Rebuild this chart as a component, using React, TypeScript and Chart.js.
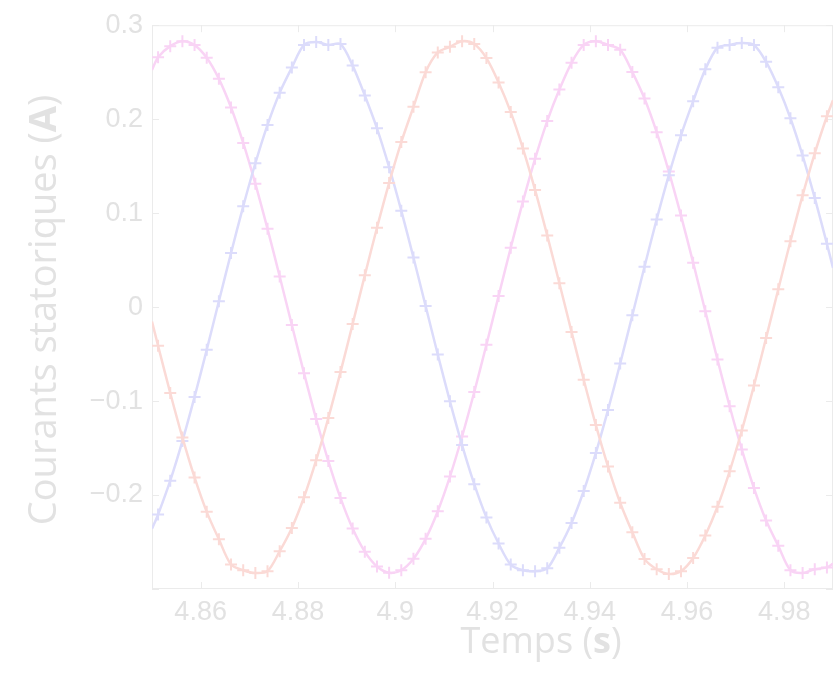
import React, { useEffect, useRef } from 'react';
import { Chart, registerables } from 'chart.js';

Chart.register(...registerables);

// Temps (s)
const timeS = [
  4.85, 4.85125, 4.85375, 4.85625, 4.85875, 4.86125, 4.86375, 4.86625, 4.86875, 4.87125, 4.87375,
  4.87625, 4.87875, 4.88125, 4.88375, 4.88625, 4.88875, 4.89125, 4.89375, 4.89625, 4.89875,
  4.90125, 4.90375, 4.90625, 4.90875, 4.91125, 4.91375, 4.91625, 4.91875, 4.92125, 4.92375,
  4.92625, 4.92875, 4.93125, 4.93375, 4.93625, 4.93875, 4.94125, 4.94375, 4.94625, 4.94875,
  4.95125, 4.95375, 4.95625, 4.95875, 4.96125, 4.96375, 4.96625, 4.96875, 4.97125, 4.97375,
  4.97625, 4.97875, 4.98125, 4.98375, 4.98625, 4.98875, 4.99,
];

// Phase a (pink)
const courantA = [
  0.2524, 0.266, 0.2777, 0.283, 0.2788, 0.2653, 0.2429, 0.2124, 0.1747, 0.1312, 0.0833,
  0.0326, -0.0191, -0.0703, -0.1191, -0.1638, -0.2031, -0.2357, -0.2603, -0.2761, -0.2828,
  -0.28, -0.2678, -0.2466, -0.2172, -0.1804, -0.1377, -0.0904, -0.04, 0.0118, 0.0631,
  0.1123, 0.1578, 0.198, 0.2315, 0.26, 0.279, 0.283, 0.279, 0.274, 0.2501,
  0.2219, 0.1861, 0.1442, 0.0974, 0.0473, -0.0044, -0.0558, -0.1055, -0.1515, -0.1926,
  -0.2271, -0.2541, -0.28, -0.283, -0.279, -0.277, -0.273,
];

// Phase b (blue)
const courantB = [
  -0.236, -0.2207, -0.1847, -0.1426, -0.0956, -0.0455, 0.0062, 0.0576, 0.1072, 0.1531, 0.1939,
  0.2282, 0.2549, 0.279, 0.282, 0.279, 0.28, 0.257, 0.2252, 0.1903, 0.1489,
  0.1026, 0.0528, 0.0012, -0.0504, -0.1003, -0.1468, -0.1884, -0.2238, -0.2516, -0.274,
  -0.28, -0.281, -0.278, -0.256, -0.2297, -0.1957, -0.1552, -0.1094, -0.06, -0.0086,
  0.043, 0.0933, 0.1404, 0.1828, 0.2192, 0.253, 0.276, 0.279, 0.281, 0.279,
  0.261, 0.2339, 0.201, 0.1613, 0.1162, 0.0673, 0.0418,
];

// Phase c (red)
const courantC = [
  -0.0153, -0.0411, -0.0914, -0.1387, -0.1813, -0.2179, -0.2471, -0.274, -0.28, -0.283, -0.281,
  -0.2598, -0.235, -0.2024, -0.1629, -0.118, -0.0692, -0.018, 0.0338, 0.0844, 0.1322,
  0.1756, 0.2131, 0.25, 0.271, 0.277, 0.283, 0.28, 0.265, 0.2391, 0.2075,
  0.1689, 0.1247, 0.0763, 0.0254, -0.0264, -0.0773, -0.1256, -0.1697, -0.2082, -0.2396,
  -0.268, -0.279, -0.284, -0.281, -0.267, -0.243, -0.2125, -0.1748, -0.1313, -0.0835,
  -0.0328, 0.019, 0.0701, 0.1189, 0.1637, 0.2031, 0.2202,
];

const xTickValues = [4.86, 4.88, 4.9, 4.92, 4.94, 4.96, 4.98];
const xTickLabels = ['4.86', '4.88', '4.9', '4.92', '4.94', '4.96', '4.98'];
const yTickValues = [-0.3, -0.2, -0.1, 0, 0.1, 0.2, 0.3];
const yTickLabels = ['', '\u22120.2', '\u22120.1', '0', '0.1', '0.2', '0.3'];

const xTitleParts = ['Temps (', 's', ')'];
const yTitleParts = ['Courants statoriques (', 'A', ')'];

const COLOR_A = '#f9d4f5';
const COLOR_B = '#dcdcfb';
const COLOR_C = '#fbdad6';
const TEXT_COLOR = '#e2e2e2';
const FRAME_COLOR = '#ebebeb';
const TITLE_FONT = '"Open Sans", "Noto Sans", sans-serif';
const TICK_FONT = '"Liberation Sans", Arial, sans-serif';

function drawParts(ctx: CanvasRenderingContext2D, parts: string[], size: number) {
  const fonts = parts.map((_, i) => `${i === 1 ? 'bold' : 'normal'} ${size}px ${TITLE_FONT}`);
  let total = 0;
  const widths = parts.map((p, i) => {
    ctx.font = fonts[i];
    const w = ctx.measureText(p).width;
    total += w;
    return w;
  });
  let x = -total / 2;
  parts.forEach((p, i) => {
    ctx.font = fonts[i];
    ctx.fillText(p, x, 0);
    x += widths[i];
  });
}

const framePlugin = {
  id: 'matlabFrame',
  beforeDatasetsDraw(chart: any) {
    const { ctx, chartArea: a, scales } = chart;
    ctx.save();
    ctx.strokeStyle = FRAME_COLOR;
    ctx.lineWidth = 1;
    ctx.strokeRect(a.left + 0.5, a.top + 0.5, a.right - a.left - 1, a.bottom - a.top - 1);
    const L = 7;
    ctx.beginPath();
    scales.x.ticks.forEach((t: any) => {
      const px = Math.round(scales.x.getPixelForValue(t.value)) + 0.5;
      ctx.moveTo(px, a.bottom);
      ctx.lineTo(px, a.bottom - L);
      ctx.moveTo(px, a.top);
      ctx.lineTo(px, a.top + L);
    });
    scales.y.ticks.forEach((t: any) => {
      const py = Math.round(scales.y.getPixelForValue(t.value)) + 0.5;
      ctx.moveTo(a.left, py);
      ctx.lineTo(a.left + L, py);
      ctx.moveTo(a.right, py);
      ctx.lineTo(a.right - L, py);
    });
    ctx.stroke();
    ctx.restore();
  },
  afterDraw(chart: any) {
    const { ctx } = chart;
    ctx.save();
    ctx.fillStyle = TEXT_COLOR;
    ctx.textBaseline = 'alphabetic';
    ctx.translate(541, 653);
    drawParts(ctx, xTitleParts, 36);
    ctx.restore();
    ctx.save();
    ctx.fillStyle = TEXT_COLOR;
    ctx.textBaseline = 'alphabetic';
    ctx.translate(56, 310);
    ctx.rotate(-Math.PI / 2);
    drawParts(ctx, yTitleParts, 38);
    ctx.restore();
  },
};

export default function App() {
  const ref = useRef<HTMLCanvasElement | null>(null);

  useEffect(() => {
    document.body.style.margin = '0';
    const canvas = ref.current;
    if (!canvas) return;
    const last = timeS.length - 1;
    const mk = (arr: number[], color: string) => ({
      data: timeS.map((t, i) => ({ x: t, y: arr[i] })),
      borderColor: color,
      backgroundColor: color,
      borderWidth: 2.5,
      tension: 0.3,
      pointStyle: 'cross',
      pointRadius: (c: any) => (c.dataIndex === 0 || c.dataIndex === last ? 0 : 6),
      pointBorderWidth: 2,
      pointBorderColor: color,
      pointHoverRadius: 0,
    });
    const chart = new Chart(canvas, {
      type: 'line',
      data: {
        datasets: [mk(courantC, COLOR_C), mk(courantB, COLOR_B), mk(courantA, COLOR_A)] as any,
      },
      options: {
        animation: false,
        responsive: false,
        devicePixelRatio: 1,
        layout: { padding: { top: 20, right: 2, left: 0, bottom: 0 } },
        plugins: { legend: { display: false }, tooltip: { enabled: false } },
        events: [],
        scales: {
          x: {
            type: 'linear',
            min: 4.85,
            max: 4.99,
            grid: { display: false, drawTicks: false },
            border: { display: false },
            afterBuildTicks: (s: any) => {
              s.ticks = xTickValues.map((v) => ({ value: v }));
            },
            afterFit: (s: any) => {
              s.height = 97;
            },
            ticks: {
              padding: 7,
              color: TEXT_COLOR,
              font: { family: TICK_FONT, size: 27 },
              maxRotation: 0,
              autoSkip: false,
              callback: (_v: any, i: number) => xTickLabels[i],
            },
          },
          y: {
            type: 'linear',
            min: -0.3,
            max: 0.3,
            grid: { display: false, drawTicks: false },
            border: { display: false },
            afterBuildTicks: (s: any) => {
              s.ticks = yTickValues.map((v) => ({ value: v }));
            },
            afterFit: (s: any) => {
              s.width = 152;
            },
            ticks: {
              padding: 9,
              color: TEXT_COLOR,
              font: { family: TICK_FONT, size: 27 },
              autoSkip: false,
              callback: (_v: any, i: number) => yTickLabels[i],
            },
          },
        },
      } as any,
      plugins: [framePlugin],
    });
    return () => chart.destroy();
  }, []);

  return (
    <canvas ref={ref} width={835} height={686} style={{ display: 'block', width: 835, height: 686 }} />
  );
}
